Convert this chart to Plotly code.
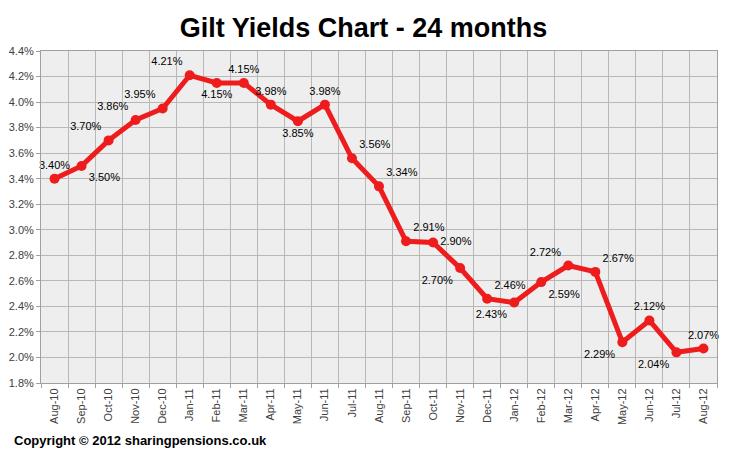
import plotly.graph_objects as go

months = ["Aug-10", "Sep-10", "Oct-10", "Nov-10", "Dec-10", "Jan-11", "Feb-11", "Mar-11",
          "Apr-11", "May-11", "Jun-11", "Jul-11", "Aug-11", "Sep-11", "Oct-11", "Nov-11",
          "Dec-11", "Jan-12", "Feb-12", "Mar-12", "Apr-12", "May-12", "Jun-12", "Jul-12", "Aug-12"]
yields = [3.40, 3.50, 3.70, 3.86, 3.95, 4.21, 4.15, 4.15,
          3.98, 3.85, 3.98, 3.56, 3.34, 2.91, 2.90, 2.70,
          2.46, 2.43, 2.59, 2.72, 2.67, 2.12, 2.29, 2.04, 2.07]
point_labels = ["3.40%", "3.50%", "3.70%", "3.86%", "3.95%", "4.21%", "4.15%", "4.15%",
                "3.98%", "3.85%", "3.98%", "3.56%", "3.34%", "2.91%", "2.90%", "2.70%",
                "2.46%", "2.43%", "2.59%", "2.72%", "2.67%", "2.29%", "2.12%", "2.04%", "2.07%"]
label_pos = ["top center", "bottom right", "top left", "top left", "top left", "top left",
             "bottom center", "top center", "top center", "bottom center", "top center",
             "top right", "top right", "top right", "middle right", "bottom left",
             "top right", "bottom left", "bottom right", "top left", "top right",
             "bottom left", "top center", "bottom left", "top center"]
y_ticks = [1.8, 2.0, 2.2, 2.4, 2.6, 2.8, 3.0, 3.2, 3.4, 3.6, 3.8, 4.0, 4.2, 4.4]
y_tick_text = [f"{v:.1f}%" for v in y_ticks]

W, H = 742, 451
ML, MR, MT, MB = 33, 33, 43, 76
PW, PH = W - ML - MR, H - MT - MB

fig = go.Figure()
fig.add_trace(go.Scatter(
    x=months, y=yields, mode="lines+markers+text",
    line=dict(color="#ee1c1c", width=5),
    marker=dict(color="#ee1c1c", size=10),
    text=point_labels, textposition=label_pos,
    textfont=dict(family="Liberation Sans, Arial, sans-serif", size=11, color="#000000"),
    cliponaxis=False, hoverinfo="skip",
))

fig.update_layout(
    width=W, height=H,
    margin=dict(l=ML, r=MR, t=MT, b=MB),
    paper_bgcolor="white", plot_bgcolor="#eeeeee",
    showlegend=False,
    title=dict(text="<b>Gilt Yields Chart - 24 months</b>", x=355.5 / W, xanchor="center",
               y=1 - 20 / H, yanchor="middle",
               font=dict(family="Liberation Sans, Arial, sans-serif", size=27, color="#000000")),
    font=dict(family="Liberation Sans, Arial, sans-serif"),
)
fig.update_xaxes(
    type="category", range=[-0.5, len(months) - 0.5], tickson="boundaries",
    tickangle=-90, tickfont=dict(size=11, color="#404040"), automargin=False,
    showgrid=True, gridcolor="#b8b8b8", gridwidth=1,
    ticks="outside", ticklen=4, tickcolor="#a0a0a0",
    showline=True, linecolor="#a0a0a0", linewidth=1, mirror=True,
)
fig.update_yaxes(
    range=[1.8, 4.4], tickvals=y_ticks, ticktext=y_tick_text,
    tickfont=dict(size=11, color="#404040"), automargin=False,
    showgrid=True, gridcolor="#b8b8b8", gridwidth=1,
    ticks="outside", ticklen=4, tickcolor="#a0a0a0",
    showline=True, linecolor="#a0a0a0", linewidth=1, mirror=True, zeroline=False,
)
fig.add_annotation(
    text="<b>Copyright © 2012 sharingpensions.co.uk</b>", xref="paper", yref="paper",
    x=-29 / PW, y=-57 / PH, xanchor="left", yanchor="middle", showarrow=False,
    font=dict(family="Liberation Sans Narrow, Arial Narrow, Liberation Sans, sans-serif", size=13, color="#000000"),
)

fig.write_html("out.html")
